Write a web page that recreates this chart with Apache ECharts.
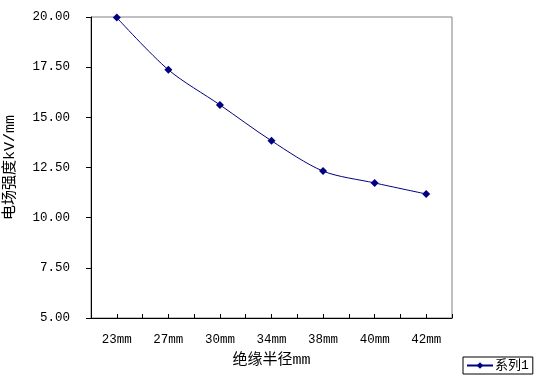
<!DOCTYPE html>
<html><head><meta charset="utf-8">
<script src="https://cdn.jsdelivr.net/npm/echarts@6/dist/echarts.min.js"></script>
<style>html,body{margin:0;padding:0;background:#fff}#c{width:535px;height:381px}</style>
</head><body><div id="c"></div>
<script>
const categories = ['23mm','27mm','30mm','34mm','38mm','40mm','42mm'];
const seriesName = '系列1';
const values = [19.97, 17.37, 15.62, 13.83, 12.32, 11.73, 11.18];
const yTicks = {min: 5, max: 20, interval: 2.5};
const xName = '绝缘半径mm';
const yName = '电场强度kV/mm';

const FONT = "'Liberation Mono', 'Noto Sans CJK SC', monospace";
const chart = echarts.init(document.getElementById('c'), null, {renderer: 'canvas'});
chart.setOption({
  backgroundColor: '#fff',
  animation: false,
  grid: {left: 91, top: 17, right: 83, bottom: 63, show: true, borderColor: '#808080', borderWidth: 1,
         backgroundColor: 'transparent', containLabel: false, outerBoundsMode: 'none'},
  legend: {
    left: 463, top: 357, orient: 'horizontal',
    borderColor: '#000', borderWidth: 1, padding: [2, 4, 2, 3],
    itemWidth: 26, itemHeight: 8, itemGap: 2,
    textStyle: {fontFamily: FONT, fontSize: 13, color: '#000', padding: [0,0,0,-3]},
    data: [seriesName]
  },
  xAxis: [{
    type: 'category', data: categories, boundaryGap: true,
    axisLine: {lineStyle: {color: '#000', width: 1}},
    axisTick: {show: true, inside: true, length: 4, interval: 0, lineStyle: {color: '#000'}},
    axisLabel: {fontFamily: FONT, fontSize: 12.5, color: '#000', margin: 15},
    name: xName, nameLocation: 'middle', nameGap: 35,
    nameTextStyle: {fontFamily: FONT, fontSize: 15, color: '#000'}
  }, {
    type: 'category', data: categories, boundaryGap: true, position: 'bottom',
    axisLine: {show: false}, axisLabel: {show: false}, splitLine: {show: false},
    axisTick: {show: true, inside: true, alignWithLabel: true, interval: 0, length: 4, lineStyle: {color: '#000'}}
  }],
  yAxis: {
    type: 'value', min: yTicks.min, max: yTicks.max, interval: yTicks.interval,
    axisLine: {show: true, lineStyle: {color: '#000', width: 1}},
    axisTick: {show: true, length: 5, lineStyle: {color: '#000'}},
    splitLine: {show: false},
    axisLabel: {fontFamily: FONT, fontSize: 12.5, color: '#000', margin: 21, formatter: v => v.toFixed(2)},
    name: yName, nameLocation: 'middle', nameGap: 73, nameRotate: 90,
    nameTextStyle: {fontFamily: FONT, fontSize: 15, color: '#000'}
  },
  series: [{
    name: seriesName, type: 'line', xAxisIndex: 0, data: values,
    smooth: 0.3, symbol: 'diamond', symbolSize: 8,
    lineStyle: {color: '#000080', width: 1},
    itemStyle: {color: '#000080'}
  }]
});
</script></body></html>
